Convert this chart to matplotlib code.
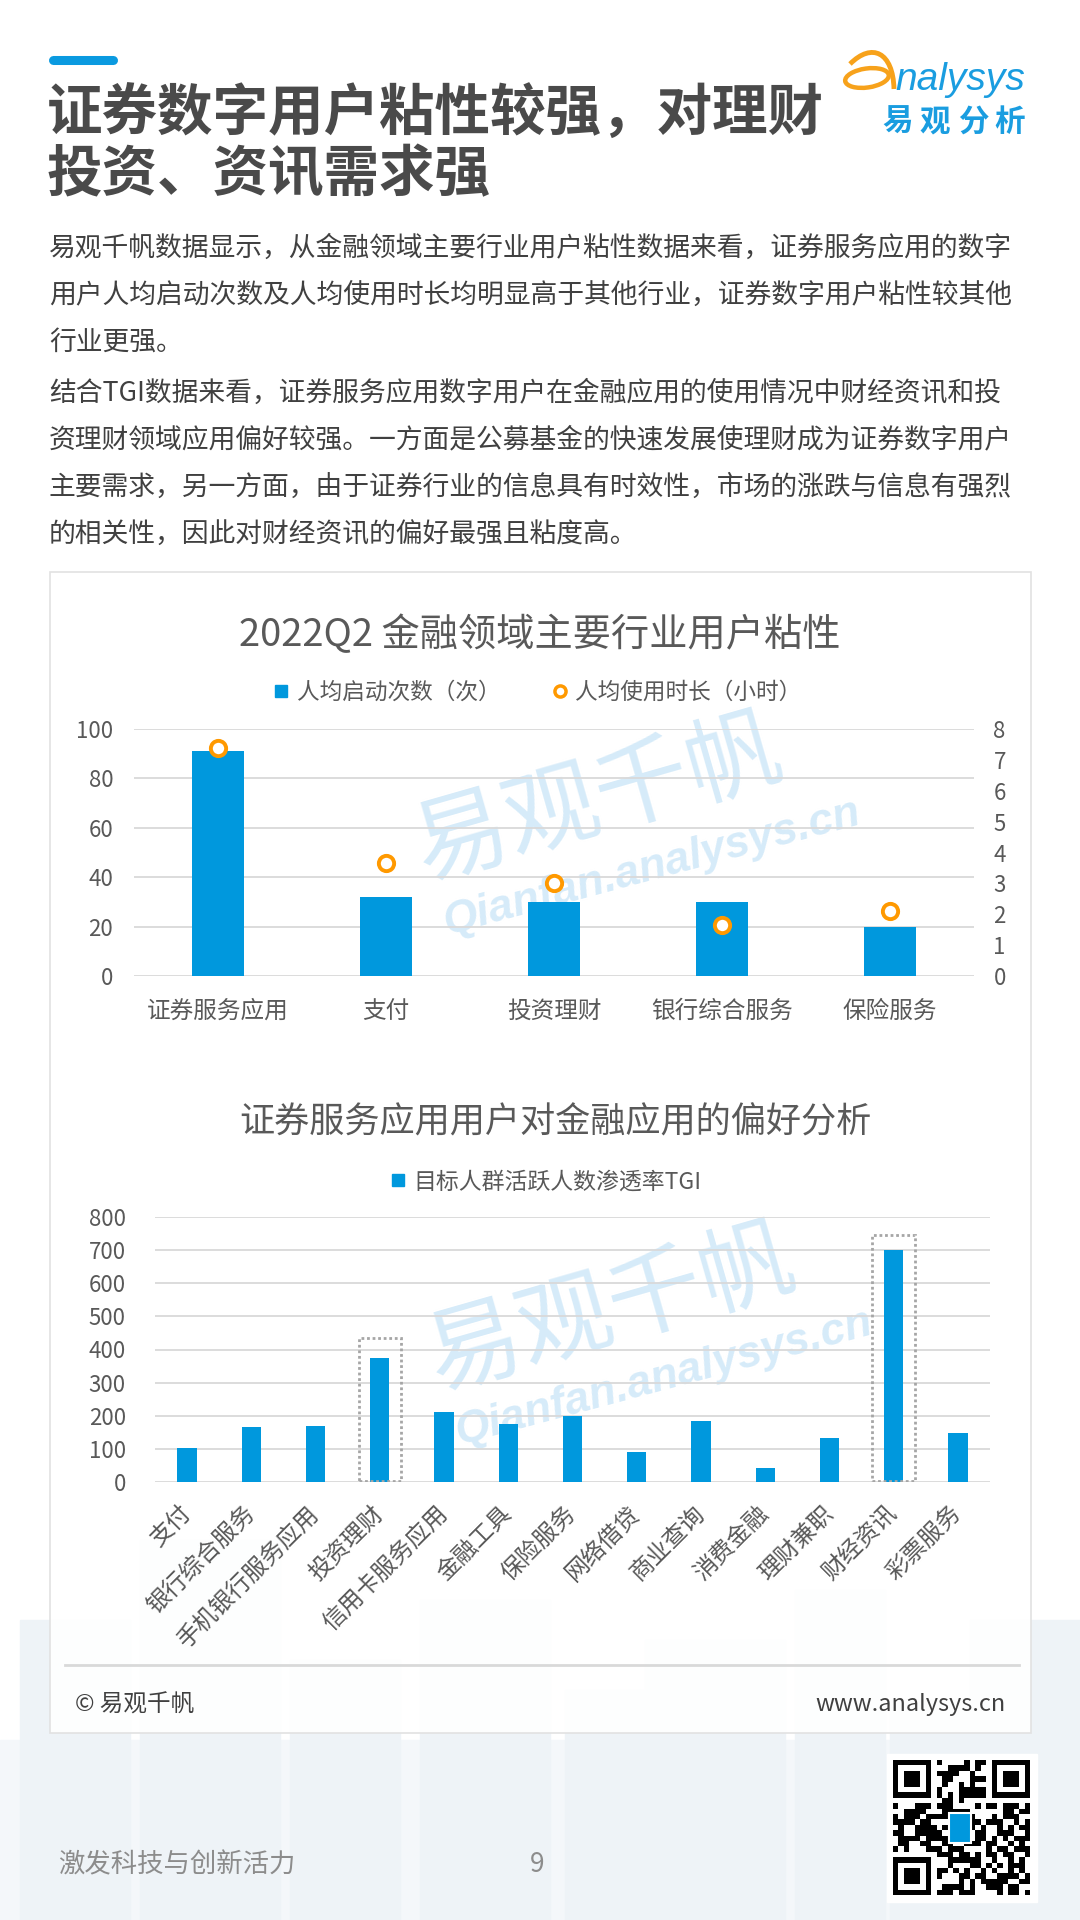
import numpy as np
import matplotlib.pyplot as plt
from matplotlib.patches import Rectangle, Ellipse, PathPatch
from matplotlib.path import Path
from matplotlib.lines import Line2D

plt.rcParams['font.family'] = ['Noto Sans CJK SC', 'DejaVu Sans']

# --- chart 1: 2022Q2 金融领域主要行业用户粘性 ---
industries = ['证券服务应用', '支付', '投资理财', '银行综合服务', '保险服务']
launches = [91, 32, 30, 30, 20]          # 人均启动次数（次）
hours = [7.37, 3.67, 3.0, 1.65, 2.12]    # 人均使用时长（小时）

# --- chart 2: 证券服务应用用户对金融应用的偏好分析 ---
apps = ['支付', '银行综合服务', '手机银行服务应用', '投资理财', '信用卡服务应用', '金融工具',
        '保险服务', '网络借贷', '商业查询', '消费金融', '理财兼职', '财经资讯', '彩票服务']
tgi = [103, 167, 170, 373, 212, 174, 200, 92, 183, 42, 134, 700, 149]
highlight = {3: 436, 11: 745}   # dotted boxes: category index -> box top

paragraph = [
    '易观千帆数据显示，从金融领域主要行业用户粘性数据来看，证券服务应用的数字',
    '用户人均启动次数及人均使用时长均明显高于其他行业，证券数字用户粘性较其他',
    '行业更强。',
    '结合TGI数据来看，证券服务应用数字用户在金融应用的使用情况中财经资讯和投',
    '资理财领域应用偏好较强。一方面是公募基金的快速发展使理财成为证券数字用户',
    '主要需求，另一方面，由于证券行业的信息具有时效性，市场的涨跌与信息有强烈',
    '的相关性，因此对财经资讯的偏好最强且粘度高。',
]
para_y = [248, 295, 342, 393, 440, 487, 535]

BLUE = '#0098dd'
ORANGE = '#ff9900'
GRAY = '#595959'
GRID = '#d9d9d9'
WM = '#d6ebf9'

W, H = 1080, 1920
fig = plt.figure(figsize=(10.8, 19.2), dpi=100)

# background layer in pixel coordinates
bg = fig.add_axes([0, 0, 1, 1])
bg.set_xlim(0, W)
bg.set_ylim(H, 0)
bg.axis('off')

# faint skyline at the bottom
bg.add_patch(Rectangle((0, 1740), W, 180, color='#f4f7fa', zorder=0))
for bx, by, bw, bh in [(20, 1620, 110, 300), (140, 1540, 140, 380), (290, 1660, 110, 260),
                       (420, 1600, 130, 320), (565, 1690, 80, 230), (645, 1640, 140, 280),
                       (795, 1590, 90, 330), (890, 1700, 100, 220), (970, 1620, 110, 300)]:
    bg.add_patch(Rectangle((bx, by), bw, bh, color='#eef3f7', zorder=0.2))

# header
bg.plot([53, 113], [59.5, 59.5], lw=6.5, color='#0a9ae0', solid_capstyle='round')
bg.text(47, 115, '证券数字用户粘性较强，对理财', fontsize=40, fontweight='bold',
        color='#4a4a4a', va='center')
bg.text(47, 175, '投资、资讯需求强', fontsize=40, fontweight='bold',
        color='#4a4a4a', va='center')

# analysys logo
bg.add_patch(Ellipse((867, 78), 44, 19, angle=-8, fill=False, ec='#f7a21b', lw=3.2))
swoosh = Path([(850, 64), (872, 42), (893, 52), (894, 89)],
              [Path.MOVETO, Path.CURVE4, Path.CURVE4, Path.CURVE4])
bg.add_patch(PathPatch(swoosh, fill=False, ec='#f7a21b', lw=3.5))
bg.text(895, 90, 'nalysys', fontsize=28, style='italic', color='#1a9de0',
        family='Liberation Sans', va='baseline')
for cx, ch in zip([898, 935, 973, 1010], '易观分析'):
    bg.text(cx, 122, ch, fontsize=22, fontweight='bold', color='#1a9de0',
            ha='center', va='center')

# paragraph
for y, line in zip(para_y, paragraph):
    bg.text(49, y, line, fontsize=19.3, color='#404040', va='center')

# chart panel
bg.add_patch(Rectangle((50, 572), 981, 1161, fc='white', ec='#e0e0e0', lw=1.2,
                       alpha=0.94, zorder=1))
bg.plot([65, 1019], [1665, 1665], color='#d9d9d9', lw=2, zorder=2)
bg.text(75, 1705, '© 易观千帆', fontsize=17, color='#404040', va='center', zorder=2)
bg.text(1006, 1705, 'www.analysys.cn', fontsize=17, color='#404040', va='center',
        ha='right', zorder=2)

# watermarks
for (wx, wy), (qx, qy) in [((598, 800), (652, 868)), ((611, 1310), (664, 1378))]:
    bg.text(wx, wy, '易观千帆', fontsize=68, color=WM, rotation=16,
            ha='center', va='center', zorder=2)
    bg.text(qx, qy, 'Qianfan.analysys.cn', fontsize=32, color=WM, rotation=15,
            family='Liberation Sans', fontweight='bold', style='italic',
            ha='center', va='center', zorder=2)

# titles and legends
bg.text(540, 635, '2022Q2 金融领域主要行业用户粘性', fontsize=27.5, color=GRAY,
        ha='center', va='center', zorder=3)
bg.text(555, 1123, '证券服务应用用户对金融应用的偏好分析', fontsize=25.3, color=GRAY,
        ha='center', va='center', zorder=3)

h_bar = Line2D([], [], ls='none', marker='s', ms=8.5, color=BLUE)
h_dot = Line2D([], [], ls='none', marker='o', ms=8, mfc='white', mec=ORANGE, mew=2.5)
fig.legend([h_bar, h_dot], ['人均启动次数（次）', '人均使用时长（小时）'], loc='center',
           bbox_to_anchor=(537 / W, 1 - 692 / H), ncol=2, frameon=False, fontsize=16.3,
           labelcolor=GRAY, handlelength=0.8, handletextpad=0.3, columnspacing=2.2)
fig.legend([h_bar], ['目标人群活跃人数渗透率TGI'], loc='center',
           bbox_to_anchor=(545 / W, 1 - 1182 / H), frameon=False, fontsize=16.5,
           labelcolor=GRAY, handlelength=0.8, handletextpad=0.3)

# footer
bg.text(58, 1865, '激发科技与创新活力', fontsize=19, color='#8c8c8c', va='center')
bg.text(537, 1865, '9', fontsize=19, color='#8c8c8c', va='center', ha='center')

n = 25
seed = np.frombuffer(b'https://www.analysys.cn/qianfan', dtype=np.uint8)
qr = np.zeros((n, n))
for i in range(n):
    for j in range(n):
        qr[i, j] = (int(seed[(i * 7 + j * 3) % len(seed)]) >> ((i * j + i) % 8)) & 1
finder = np.ones((7, 7))
finder[1:6, 1:6] = 0
finder[2:5, 2:5] = 1
for r, c in [(0, 0), (0, n - 7), (n - 7, 0)]:
    qr[max(r - 1, 0):r + 8, max(c - 1, 0):c + 8] = 0
    qr[r:r + 7, c:c + 7] = finder
bg.add_patch(Rectangle((887, 1754), 150, 148, color='white', zorder=2))
bg.imshow(qr, cmap='binary', extent=(893, 1030, 1895, 1760), aspect='auto',
          interpolation='nearest', zorder=3)
bg.add_patch(Rectangle((949, 1813), 22, 30, color=BLUE, ec='white', lw=1.5, zorder=4))


def style_axis(ax):
    for s in ax.spines.values():
        s.set_visible(False)
    ax.tick_params(length=0, labelsize=16, labelcolor=GRAY)
    ax.patch.set_visible(False)


# chart 1 axes
ax1 = fig.add_axes([134 / W, 1 - 976 / H, 840 / W, 247 / H], zorder=5)
x1 = np.arange(len(industries))
ax1.bar(x1, launches, width=0.315, color=BLUE, zorder=3)
ax1.set_xlim(-0.5, len(industries) - 0.5)
ax1.set_ylim(0, 100)
ax1.set_yticks(range(0, 101, 20))
ax1.grid(axis='y', color=GRID, lw=1.3)
ax1.set_axisbelow(True)
style_axis(ax1)
ax1.tick_params(axis='y', pad=15)
ax1.set_xticks(x1)
ax1.set_xticklabels(industries, fontsize=17)
ax1.tick_params(axis='x', pad=17)

ax1b = ax1.twinx()
ax1b.plot(x1, hours, ls='none', marker='o', ms=11, mfc='white', mec=ORANGE, mew=2.8,
          zorder=4, clip_on=False)
ax1b.set_ylim(0, 8)
ax1b.set_yticks(range(0, 9))
style_axis(ax1b)
ax1b.tick_params(axis='y', pad=14)

# chart 2 axes
ax2 = fig.add_axes([155 / W, 1 - 1482 / H, 835 / W, 265 / H], zorder=5)
x2 = np.arange(len(apps))
ax2.bar(x2, tgi, width=0.3, color=BLUE, zorder=3)
ax2.set_xlim(-0.5, len(apps) - 0.5)
ax2.set_ylim(0, 800)
ax2.set_yticks(range(0, 801, 100))
ax2.grid(axis='y', color=GRID, lw=1.3)
ax2.set_axisbelow(True)
style_axis(ax2)
ax2.tick_params(axis='y', pad=21)
ax2.set_xticks(x2)
ax2.set_xticklabels(apps, fontsize=17, rotation=45, ha='right', va='center',
                    rotation_mode='anchor')
ax2.tick_params(axis='x', pad=20)
for i, top in highlight.items():
    ax2.add_patch(Rectangle((i - 0.33, 4), 0.66, top - 4, fill=False, ec='#a6a6a6',
                            ls=(0, (1, 1)), lw=2, zorder=4))

fig.savefig('out.png', dpi=100)
